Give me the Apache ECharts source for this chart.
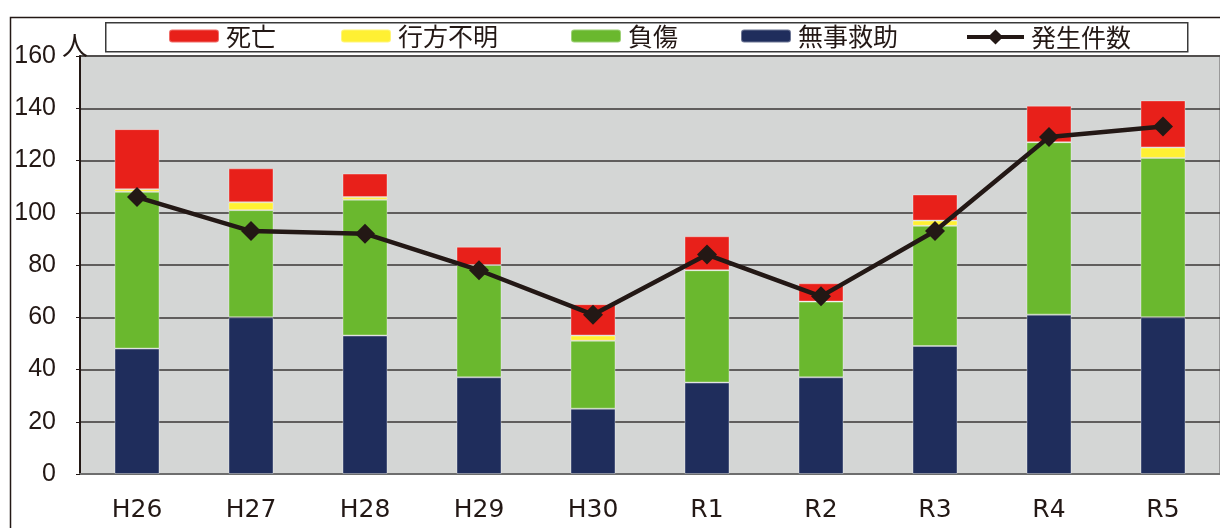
<!DOCTYPE html>
<html>
<head>
<meta charset="utf-8">
<script src="https://cdn.jsdelivr.net/npm/echarts@6/dist/echarts.min.js"></script>
<style>
html,body{margin:0;padding:0;background:#fff;}
#c{width:1220px;height:528px;}
</style>
</head>
<body>
<div id="c"></div>
<script>
const categories = ['H26','H27','H28','H29','H30','R1','R2','R3','R4','R5'];
const rescued  = [48, 60, 53, 37, 25, 35, 37, 49, 61, 60];   // 無事救助
const injured  = [60, 41, 52, 43, 26, 43, 29, 46, 66, 61];   // 負傷
const missing  = [1, 3, 1, 0, 2, 0, 0, 2, 0, 4];             // 行方不明
const deaths   = [23, 13, 9, 7, 12, 13, 7, 10, 14, 18];      // 死亡
const incidents = [106, 93, 92, 78, 61, 84, 68, 93, 129, 133]; // 発生件数
const yTicks = [0, 20, 40, 60, 80, 100, 120, 140, 160];
const legendNames = ['死亡', '行方不明', '負傷', '無事救助', '発生件数'];
const legendLefts = [168, 340, 570, 740, 965];

const cjk = '"Noto Sans CJK JP", "Noto Sans", sans-serif';
const num = '"Liberation Sans", Arial, sans-serif';

const legends = legendNames.map((n, i) => {
  const isLine = n === '発生件数';
  return {
    left: legendLefts[i], top: isLine ? 24 : 23, padding: 0,
    itemWidth: isLine ? 57 : 50, itemHeight: isLine ? 19 : 13,
    lineStyle: { width: 4 },
    textStyle: { fontFamily: cjk, fontSize: 25, lineHeight: 26, color: '#231815', padding: [0, 0, 0, 2] },
    data: [n]
  };
});

const chart = echarts.init(document.getElementById('c'));
function bar(name, data, color) {
  return {
    type: 'bar', stack: 'total', barWidth: 45, name: name, data: data,
    itemStyle: { color: color, borderColor: 'rgba(255,255,255,0.35)', borderWidth: 1 }
  };
}
chart.setOption({
  animation: false,
  backgroundColor: '#ffffff',
  graphic: [{
    type: 'rect', left: 8, top: 15, z: -1,
    shape: { width: 1300, height: 600 },
    style: { fill: 'none', stroke: '#231815', lineWidth: 1.5 }
  }, {
    type: 'rect', left: 105, top: 22, z: -1,
    shape: { width: 1082, height: 29 },
    style: { fill: '#ffffff', stroke: '#3a3a3a', lineWidth: 1.5 }
  }],
  legend: legends,
  grid: {
    left: 80, right: 0, top: 56, bottom: 54,
    show: true, backgroundColor: '#d4d6d5', borderColor: '#9a9a9a', borderWidth: 2
  },
  xAxis: {
    type: 'category', data: categories,
    axisLine: { lineStyle: { color: '#6e6e6e', width: 2 } },
    axisTick: { inside: true, length: 7, lineStyle: { color: '#231815', width: 1.5 } },
    axisLabel: { fontFamily: '"DejaVu Sans", "Liberation Sans", sans-serif', fontSize: 25, color: '#231815', margin: 24 }
  },
  yAxis: {
    type: 'value', min: yTicks[0], max: yTicks[yTicks.length - 1], interval: 20,
    name: '人', nameLocation: 'end', nameGap: 4,
    nameTextStyle: { fontFamily: cjk, fontSize: 26, color: '#231815', align: 'right', verticalAlign: 'bottom', padding: [0, -8, -6, 0] },
    axisLine: { show: true, lineStyle: { color: '#231815', width: 2 } },
    axisTick: { show: true, length: 4, lineStyle: { color: '#231815' } },
    splitLine: { lineStyle: { color: '#3a3634', width: 1.5 } },
    axisLabel: { fontFamily: num, fontSize: 25, color: '#231815', margin: 24 }
  },
  series: [
    bar('無事救助', rescued, '#1f2d5c'),
    bar('負傷', injured, '#6ab82e'),
    bar('行方不明', missing, '#fff033'),
    bar('死亡', deaths, '#e8201a'),
    {
      name: '発生件数', type: 'line', data: incidents,
      symbol: 'diamond', symbolSize: 20, z: 5,
      lineStyle: { color: '#231815', width: 4.5 },
      itemStyle: { color: '#231815' }
    }
  ]
});
</script>
</body>
</html>
